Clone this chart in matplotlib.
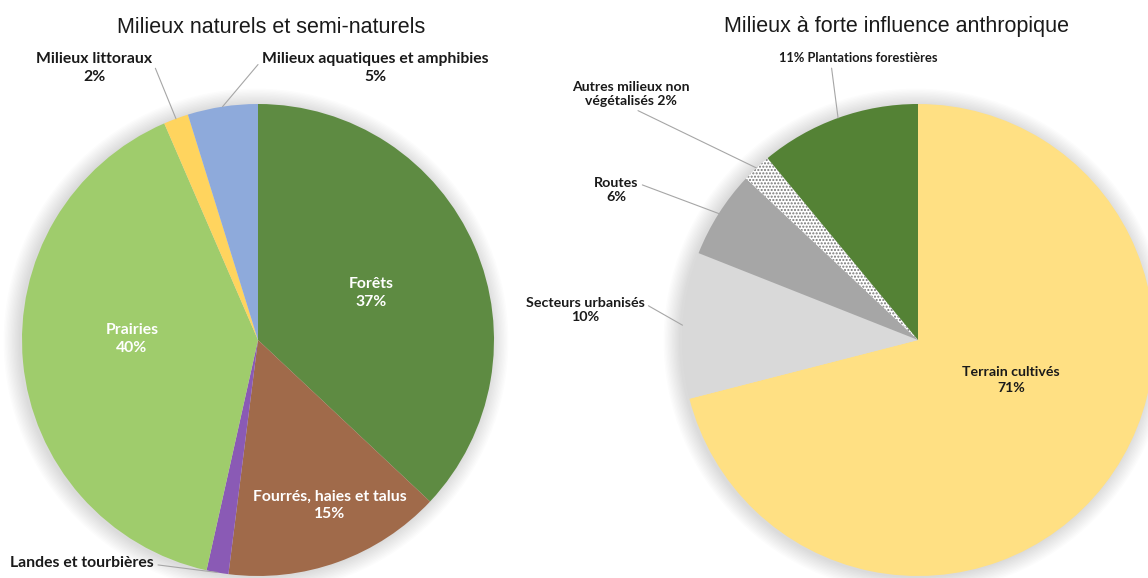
import numpy as np
import matplotlib.pyplot as plt
from matplotlib.patches import Circle

# Milieux naturels et semi-naturels
nat_labels = ['Forêts', 'Fourrés, haies et talus', 'Landes et tourbières', 'Prairies',
              'Milieux littoraux', 'Milieux aquatiques et amphibies']
nat_values = [37, 15, 1.5, 40, 1.7, 4.8]
nat_pct = ['37%', '15%', '2%', '40%', '2%', '5%']
nat_colors = ['#5E8B42', '#A06A4A', '#8A5AB5', '#9FCC6C', '#FFD45E', '#8EAADB']

# Milieux à forte influence anthropique
anth_labels = ['Terrain cultivés', 'Secteurs urbanisés', 'Routes',
               'Autres milieux non végétalisés', 'Plantations forestières']
anth_values = [71, 10, 6, 2, 11]
anth_pct = ['71%', '10%', '6%', '2%', '11%']
anth_colors = ['#FFE083', '#D9D9D9', '#A6A6A6', '#FFFFFF', '#548235']

FONT = ['Lato', 'DejaVu Sans']
W, H = 1148, 578
R = 236

fig = plt.figure(figsize=(W / 100, H / 100), dpi=100)
ax = fig.add_axes([0, 0, 1, 1])


def shadow(cx, cy):
    for i in range(12):
        ax.add_patch(Circle((cx - 2, cy - 1), R + 1 + i * 1.4, color='black',
                            alpha=0.012, lw=0, zorder=0))


def draw_pie(values, colors, center):
    wedges, _ = ax.pie(values, colors=colors, startangle=90, counterclock=False,
                       center=center, radius=R, wedgeprops=dict(linewidth=0))
    for w in wedges:
        w.set_zorder(2)
    return wedges


def edge_point(w, center):
    a = np.deg2rad((w.theta1 + w.theta2) / 2)
    return center[0] + R * np.cos(a), center[1] + R * np.sin(a)


def outside(text, w, center, pos, relpos, size=11.3, ls=1.3):
    ax.annotate(text, xy=edge_point(w, center), xytext=pos, ha='center', va='center',
                fontsize=size, fontweight='bold', family=FONT, color='#1a1a1a',
                linespacing=ls, zorder=5,
                arrowprops=dict(arrowstyle='-', color='#A6A6A6', lw=0.8,
                                relpos=relpos, shrinkA=1, shrinkB=0))


def inside(text, pos, color='white', size=11.3, ls=1.3):
    ax.text(pos[0], pos[1], text, ha='center', va='center', fontsize=size,
            fontweight='bold', family=FONT, color=color, linespacing=ls, zorder=5)


# left pie
c1 = (258, H - 340)
shadow(*c1)
w1 = draw_pie(nat_values, nat_colors, c1)
inside(f'{nat_labels[0]}\n{nat_pct[0]}', (371, H - 293))
inside(f'{nat_labels[1]}\n{nat_pct[1]}', (330, H - 505))
inside(f'{nat_labels[3]}\n{nat_pct[3]}', (132, H - 339))
outside(f'{nat_labels[4]}\n{nat_pct[4]}', w1[4], c1, (94, H - 68), (1, 0.75))
outside(f'{nat_labels[5]}\n{nat_pct[5]}', w1[5], c1, (375, H - 68), (0, 0.75))
outside(nat_labels[2], w1[2], c1, (82, H - 563), (1, 0.4))

# right pie
c2 = (918, H - 340)
shadow(*c2)
w2 = draw_pie(anth_values, anth_colors, c2)
w2[3].set_hatch('.....')
w2[3].set_edgecolor('#777777')
inside(f'{anth_labels[0]}\n{anth_pct[0]}', (1011, H - 380), color='#1a1a1a',
       size=10.2, ls=1.35)
outside(f'{anth_labels[1]}\n{anth_pct[1]}', w2[1], c2, (585, H - 310), (1, 0.75),
        size=10.3, ls=1.2)
outside(f'{anth_labels[2]}\n{anth_pct[2]}', w2[2], c2, (616, H - 190), (1, 0.75),
        size=10.3, ls=1.25)
outside('Autres milieux non\nvégétalisés ' + anth_pct[3], w2[3], c2, (631, H - 94),
        (0.5, 0), size=10.1, ls=1.25)
outside(f'{anth_pct[4]} {anth_labels[4]}', w2[4], c2, (858, H - 58), (0.33, 0),
        size=9.3)

# titles
ax.text(271, H - 33, 'Milieux naturels et semi-naturels', ha='center', va='baseline',
        fontsize=15.5, family='Liberation Sans', color='#1a1a1a')
ax.text(896, H - 32, 'Milieux à forte influence anthropique', ha='center',
        va='baseline', fontsize=15.5, family='Liberation Sans', color='#1a1a1a')

ax.set_xlim(0, W)
ax.set_ylim(0, H)
ax.set_aspect('auto')
ax.axis('off')

fig.savefig('out.png', dpi=100)
